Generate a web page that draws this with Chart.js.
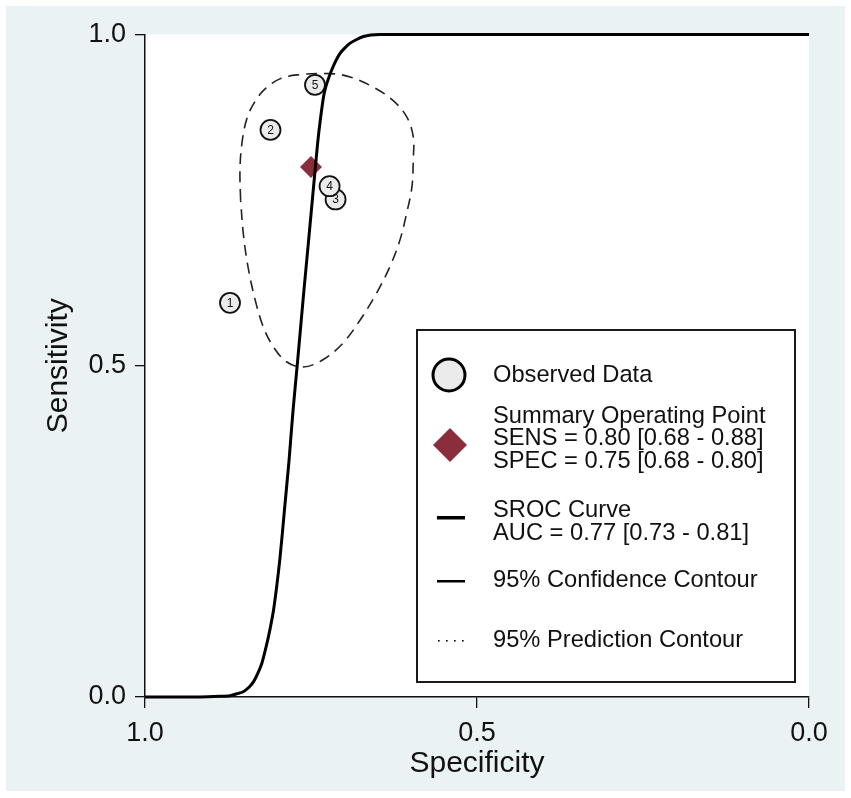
<!DOCTYPE html>
<html>
<head>
<meta charset="utf-8">
<script src="https://cdn.jsdelivr.net/npm/chart.js@4.4.1/dist/chart.umd.min.js"></script>
<style>
  body { margin: 0; background: #fff; }
  #wrap { width: 851px; height: 798px; }
</style>
</head>
<body>
<div id="wrap"><canvas id="sroc" width="851" height="798"></canvas></div>
<script>
// Data (x = specificity, y = sensitivity)
const studyLabels = ['1', '2', '3', '4', '5'];
const studySpec = [0.872, 0.811, 0.713, 0.722, 0.744];
const studySens = [0.595, 0.856, 0.751, 0.771, 0.924];

const summarySpec = [0.75];
const summarySens = [0.80];

const srocSpec = [1, 0.917, 0.887, 0.872, 0.861, 0.852, 0.843, 0.836, 0.830, 0.824, 0.818, 0.812, 0.806,
  0.797, 0.790, 0.783, 0.777, 0.770, 0.761, 0.754, 0.747, 0.740, 0.736, 0.730, 0.719, 0.706, 0.691,
  0.671, 0.646, 0.5, 0];
const srocSens = [0, 0, 0.001, 0.002, 0.005, 0.008, 0.015, 0.024, 0.036, 0.051, 0.074, 0.101, 0.134,
  0.207, 0.282, 0.358, 0.433, 0.509, 0.610, 0.685, 0.761, 0.836, 0.871, 0.912, 0.946, 0.972, 0.987,
  0.997, 1, 1, 1];

const contourSpec = [0.856, 0.857, 0.854, 0.846, 0.833, 0.818, 0.797, 0.771, 0.721, 0.691, 0.657, 0.627,
  0.606, 0.596, 0.596, 0.598, 0.606, 0.616, 0.631, 0.651, 0.676, 0.702, 0.732, 0.762, 0.787, 0.807,
  0.822, 0.834, 0.845, 0.852, 0.856];
const contourSens = [0.750, 0.795, 0.836, 0.875, 0.901, 0.919, 0.933, 0.939, 0.941, 0.936, 0.921, 0.901,
  0.876, 0.846, 0.811, 0.770, 0.730, 0.690, 0.650, 0.610, 0.569, 0.534, 0.509, 0.498, 0.506, 0.529,
  0.559, 0.599, 0.650, 0.700, 0.750];

const axisTicks = [0, 0.5, 1];

const FONT = "'Liberation Sans', Arial, sans-serif";
const toXY = (xs, ys) => xs.map((x, i) => ({ x: x, y: ys[i] }));

// background: outer white frame, blue-grey page, white plot region
const backdrop = {
  id: 'backdrop',
  beforeDraw(chart) {
    const { ctx, chartArea: a } = chart;
    ctx.save();
    ctx.fillStyle = '#ffffff';
    ctx.fillRect(0, 0, chart.width, chart.height);
    ctx.fillStyle = '#eaf2f3';
    ctx.fillRect(6, 6, 839, 785);
    ctx.fillStyle = '#ffffff';
    ctx.fillRect(a.left, a.top, a.right - a.left, a.bottom - a.top);
    ctx.restore();
  }
};

// study numbers inside the circles
const studyNumbers = {
  id: 'studyNumbers',
  afterDatasetsDraw(chart) {
    const { ctx, scales } = chart;
    ctx.save();
    ctx.font = '12px ' + FONT;
    ctx.fillStyle = '#111';
    ctx.textAlign = 'center';
    ctx.textBaseline = 'middle';
    studyLabels.forEach((lab, i) => {
      ctx.fillText(lab, scales.x.getPixelForValue(studySpec[i]), scales.y.getPixelForValue(studySens[i]) + 0.5);
    });
    ctx.restore();
  }
};

// legend box with multi-line entries
const srocLegend = {
  id: 'srocLegend',
  afterDraw(chart) {
    const ctx = chart.ctx;
    ctx.save();
    ctx.fillStyle = '#fff';
    ctx.fillRect(417, 330, 378, 352);
    ctx.strokeStyle = '#1a1a1a';
    ctx.lineWidth = 2;
    ctx.strokeRect(417, 330, 378, 352);

    // symbols
    ctx.beginPath();
    ctx.arc(449, 375, 16, 0, Math.PI * 2);
    ctx.fillStyle = '#ebebeb';
    ctx.fill();
    ctx.lineWidth = 3;
    ctx.strokeStyle = '#000';
    ctx.stroke();

    ctx.beginPath();
    ctx.moveTo(450, 428);
    ctx.lineTo(467, 445);
    ctx.lineTo(450, 462);
    ctx.lineTo(433, 445);
    ctx.closePath();
    ctx.fillStyle = '#8b2e3b';
    ctx.fill();

    ctx.fillStyle = '#000';
    ctx.fillRect(437, 516, 28, 3.5);
    ctx.fillRect(437, 580, 28, 2.5);
    [438, 446, 454, 462].forEach(x => ctx.fillRect(x, 640, 1.6, 1.6));

    // texts
    ctx.font = '23.7px ' + FONT;
    ctx.fillStyle = '#111';
    ctx.textAlign = 'left';
    ctx.textBaseline = 'middle';
    const rows = [
      ['Observed Data', 375],
      ['Summary Operating Point', 416],
      ['SENS = 0.80 [0.68 - 0.88]', 438.5],
      ['SPEC = 0.75 [0.68 - 0.80]', 461],
      ['SROC Curve', 510],
      ['AUC = 0.77 [0.73 - 0.81]', 533],
      ['95% Confidence Contour', 580],
      ['95% Prediction Contour', 640]
    ];
    rows.forEach(r => ctx.fillText(r[0], 493, r[1]));
    ctx.restore();
  }
};

const tickFont = { family: FONT, size: 27 };
const titleFont = { family: FONT, size: 30 };

new Chart(document.getElementById('sroc'), {
  type: 'scatter',
  data: {
    datasets: [
      {
        label: 'SROC Curve',
        data: toXY(srocSpec, srocSens),
        showLine: true,
        borderColor: '#000',
        borderWidth: 3,
        pointRadius: 0,
        tension: 0.2,
        clip: 5
      },
      {
        label: 'Summary Operating Point',
        data: toXY(summarySpec, summarySens),
        pointStyle: 'rectRot',
        pointRadius: 11,
        backgroundColor: '#8b2e3b',
        borderColor: '#8b2e3b',
        borderWidth: 0
      },
      {
        label: 'Observed Data',
        data: toXY(studySpec, studySens),
        pointRadius: 10,
        backgroundColor: '#ebebeb',
        borderColor: '#111',
        borderWidth: 1.8
      },
      {
        label: '95% Confidence Contour',
        data: toXY(contourSpec, contourSens),
        showLine: true,
        borderColor: '#222',
        borderWidth: 1.6,
        borderDash: [11, 7],
        pointRadius: 0,
        tension: 0.35
      }
    ]
  },
  options: {
    responsive: false,
    animation: false,
    layout: { padding: { left: 0, top: 34.5, right: 42, bottom: 0 } },
    plugins: {
      legend: { display: false },
      tooltip: { enabled: false }
    },
    scales: {
      x: {
        type: 'linear',
        min: 0,
        max: 1,
        reverse: true,
        afterBuildTicks: s => { s.ticks = axisTicks.map(v => ({ value: v })); },
        afterFit: s => { s.height = 101; },
        ticks: {
          font: tickFont,
          color: '#111',
          padding: 9,
          maxRotation: 0,
          callback: v => v.toFixed(1)
        },
        grid: { drawOnChartArea: false, drawTicks: true, tickLength: 11, color: '#111', lineWidth: 1.3 },
        border: { display: true, color: '#111', width: 1.5 },
        title: {
          display: true,
          text: 'Specificity',
          font: titleFont,
          color: '#111',
          padding: { top: 0, bottom: 16 }
        }
      },
      y: {
        type: 'linear',
        min: 0,
        max: 1,
        afterBuildTicks: s => { s.ticks = axisTicks.map(v => ({ value: v })); },
        afterFit: s => { s.width = 145; },
        ticks: {
          font: tickFont,
          color: '#111',
          padding: 9,
          callback: v => v.toFixed(1)
        },
        grid: { drawOnChartArea: false, drawTicks: true, tickLength: 10, color: '#111', lineWidth: 1.3 },
        border: { display: true, color: '#111', width: 1.5 },
        title: {
          display: true,
          text: 'Sensitivity',
          font: titleFont,
          color: '#111',
          padding: { top: 41, bottom: 0 }
        }
      }
    }
  },
  plugins: [backdrop, studyNumbers, srocLegend]
});
</script>
</body>
</html>
